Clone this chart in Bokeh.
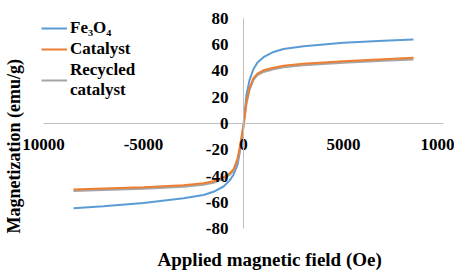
from bokeh.plotting import figure
from bokeh.models import LinearAxis, FixedTicker, Range1d, Legend, LegendItem, Title
from bokeh.embed import file_html
from bokeh.resources import INLINE

# Applied magnetic field (Oe)
field = [-8500, -7000, -5000, -3000, -2000, -1500, -1000, -700, -500, -300, -150, 0,
         150, 300, 500, 700, 1000, 1500, 2000, 3000, 5000, 7000, 8500]

# Magnetization (emu/g)
fe3o4 = [-64.5, -63.0, -60.5, -57.0, -54.5, -52.0, -48.0, -43.5, -39.0, -31.5, -19.0, -1.0,
         22.0, 33.0, 41.5, 46.5, 50.5, 54.5, 56.8, 58.8, 61.5, 63.0, 64.0]
catalyst = [-50.3, -49.5, -48.5, -47.0, -45.5, -44.0, -41.0, -38.0, -35.0, -27.0, -15.0, -1.0,
            17.0, 27.0, 34.5, 38.0, 40.5, 42.5, 44.0, 45.5, 47.5, 49.0, 50.0]
recycled = [-51.5, -50.7, -49.7, -48.2, -46.7, -45.2, -42.2, -39.2, -36.2, -28.5, -17.0, -2.5,
            15.0, 25.5, 33.3, 36.8, 39.3, 41.3, 42.8, 44.3, 46.3, 47.8, 48.7]

series_names = ["Fe\u2083O\u2084", "Catalyst", "Recycled\ncatalyst"]
series_colors = ["#5B9BD5", "#ED7D31", "#A5A5A5"]

x_ticks = [-10000, -5000, 0, 5000, 10000]
x_tick_labels = ["10000", "-5000", "0", "5000", "1000"]
y_ticks = [-80, -60, -40, -20, 0, 20, 40, 60, 80]
y_tick_labels = ["-80", "-60", "-40", "-20", "0", "20", "40", "60", "80"]

x_title = "Applied magnetic field (Oe)"
y_title = "Magnetization (emu/g)"

FONT = "Liberation Serif"

# frame is widened beyond the axis bounds so tick labels at the ends are not clipped
p = figure(width=454, height=270, x_range=Range1d(-11000, 10550), y_range=Range1d(-93.7, 93.7),
           output_backend="svg", toolbar_location=None,
           x_axis_location=None, y_axis_location=None,
           min_border_left=23, min_border_right=0, min_border_top=0, min_border_bottom=24)
p.grid.visible = False
p.outline_line_color = None
p.background_fill_color = "white"
p.border_fill_color = "white"

def style_axis(ax):
    ax.axis_line_color = "#BFBFBF"
    ax.axis_line_width = 1
    ax.major_tick_line_color = None
    ax.minor_tick_line_color = None
    ax.major_tick_out = 0
    ax.major_tick_in = 0
    ax.major_label_text_font = FONT
    ax.major_label_text_font_style = "bold"
    ax.major_label_text_font_size = "17px"
    ax.major_label_text_color = "black"

xaxis = LinearAxis(fixed_location=0, ticker=FixedTicker(ticks=x_ticks), bounds=(-10000, 10000),
                   major_label_overrides=dict(zip(x_ticks, x_tick_labels)))
style_axis(xaxis)
xaxis.major_label_standoff = 15
p.add_layout(xaxis, "below")

yaxis = LinearAxis(fixed_location=0, ticker=FixedTicker(ticks=y_ticks), bounds=(-80, 80),
                   major_label_overrides=dict(zip(y_ticks, y_tick_labels)))
style_axis(yaxis)
yaxis.major_label_standoff = 15
p.add_layout(yaxis, "left")

# axis titles
p.add_layout(Title(text=x_title, align="left", offset=134, standoff=1,
                   text_font=FONT, text_font_style="bold", text_font_size="19px",
                   text_color="black"), "below")
p.add_layout(Title(text=y_title, align="left", offset=13, standoff=0,
                   text_font=FONT, text_font_style="bold", text_font_size="18px",
                   text_color="black"), "left")

renderers = []
for ys, c in [(fe3o4, series_colors[0]), (recycled, series_colors[2]), (catalyst, series_colors[1])]:
    renderers.append(p.line(field, ys, line_color=c, line_width=2))
r_fe, r_rec, r_cat = renderers

legend = Legend(items=[LegendItem(label=series_names[0], renderers=[r_fe]),
                       LegendItem(label=series_names[1], renderers=[r_cat]),
                       LegendItem(label=series_names[2], renderers=[r_rec])],
                location="top_left", margin=18, padding=0, spacing=1,
                glyph_width=26, glyph_height=18, label_height=18, label_standoff=3,
                label_text_font=FONT, label_text_font_style="bold", label_text_font_size="17px",
                label_text_color="black", background_fill_alpha=0, border_line_color=None)
p.add_layout(legend)

open("out.html", "w").write(file_html(p, INLINE))
